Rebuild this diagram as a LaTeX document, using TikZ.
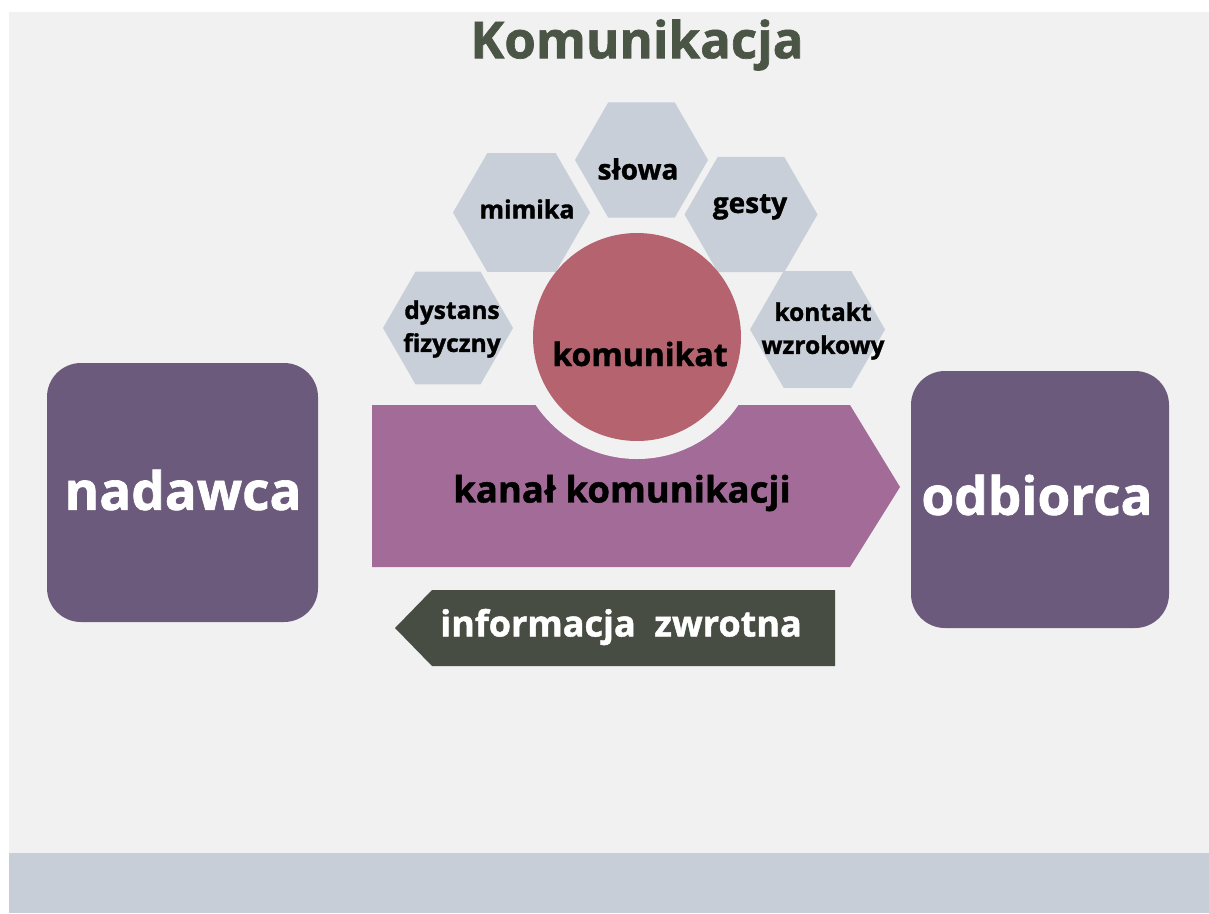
\documentclass[tikz,border=0pt]{standalone}
\usepackage{fontspec}
\setmainfont{Open Sans}[BoldFeatures={FakeBold=1.3}]
\usetikzlibrary{shapes.geometric}
\definecolor{bggray}{HTML}{F0F1F0}
\definecolor{bandcol}{HTML}{C7CED8}
\definecolor{boxpurple}{HTML}{6B5A7B}
\definecolor{kanalcol}{HTML}{A36B98}
\definecolor{circcol}{HTML}{B5646F}
\definecolor{hexcol}{HTML}{C8CFD9}
\definecolor{fbcol}{HTML}{474D42}
\definecolor{titlecol}{HTML}{4B5546}
\tikzset{
  hexshape/.style={regular polygon, regular polygon sides=6, fill=hexcol, draw=none, inner sep=0pt, outer sep=0pt},
  hextext/.style={font=\fontsize{24.5}{33}\selectfont\bfseries, text=black, align=center, inner sep=0pt},
  bigbox/.style={rounded corners=34pt, fill=boxpurple, draw=none, inner sep=0pt},
  bigtext/.style={font=\fontsize{53}{60}\selectfont\bfseries, text=white, inner sep=0pt},
}
\begin{document}
\begin{tikzpicture}[x=1pt,y=-1pt]
\useasboundingbox (0,0) rectangle (1209,913);
\fill[white] (0,0) rectangle (1209,913);
\fill[bggray] (9,12) rectangle (1209,913);
\fill[bandcol] (9,853) rectangle (1209,913);

% title
\node[font=\fontsize{51}{60}\selectfont\bfseries, text=titlecol, inner sep=0pt] (title) at (637,45) {Komunikacja};

% side boxes
\fill[bigbox] (47,363) rectangle (318,622);
\node[bigtext] (nadawca) at (183,490) {nadawca};
\fill[bigbox] (911,371) rectangle (1169,628);
\node[bigtext] (odbiorca) at (1037,495) {odbiorca};

% hexagons
\node[hexshape, minimum size=133pt] (hslowa) at (641.5,160) {};
\node[hexshape, minimum size=137pt] (hmimika) at (521.5,212.5) {};
\node[hexshape, minimum size=133pt] (hgesty) at (751,214.5) {};
\node[hexshape, minimum size=130pt] (hdystans) at (448,328) {};
\node[hexshape, minimum size=135pt] (hkontakt) at (817.5,329.5) {};

\node[hextext, font=\fontsize{28}{33}\selectfont\bfseries] (tslowa) at (638,169) {słowa};
\node[hextext, font=\fontsize{25}{33}\selectfont\bfseries] (tmimika) at (527,209) {mimika};
\node[hextext, font=\fontsize{28}{33}\selectfont\bfseries] (tgesty) at (750,207) {gesty};
\node[hextext] (tdystans) at (452,329) {dystans\\fizyczny};
\node[hextext] (tkontakt) at (823,331) {kontakt\\wzrokowy};

% channel arrow with notch
\path (372,405) coordinate (k1) (850,405) coordinate (k2) (900,487) coordinate (k3)
      (850,567) coordinate (k4) (372,567) coordinate (k5);
\fill[kanalcol] (k1) -- (k2) -- (k3) -- (k4) -- (k5) -- cycle;
\coordinate (kc) at (637,337);
\begin{scope}
  \clip (k1) -- (k2) -- (k3) -- (k4) -- (k5) -- cycle;
  \fill[bggray] (kc) circle (122);
\end{scope}
\node[font=\fontsize{36.5}{40}\selectfont\bfseries, text=black, inner sep=0pt] (kanal) at (622,493) {kanał komunikacji};

% message circle
\node[circle, fill=circcol, draw=none, minimum size=208pt, inner sep=0pt] (kom) at (kc) {};
\node[font=\fontsize{32}{40}\selectfont\bfseries, text=black, inner sep=0pt] (komtext) at (640,354) {komunikat};

% feedback arrow
\path (395,628) coordinate (f1) (432,590) coordinate (f2) (835,590) coordinate (f3)
      (835,666) coordinate (f4) (432,666) coordinate (f5);
\fill[fbcol] (f1) -- (f2) -- (f3) -- (f4) -- (f5) -- cycle;
\node[font=\fontsize{36}{40}\selectfont\bfseries, text=white, inner sep=0pt] (fb) at (621,627) {informacja\ \ zwrotna};
\end{tikzpicture}
\end{document}
